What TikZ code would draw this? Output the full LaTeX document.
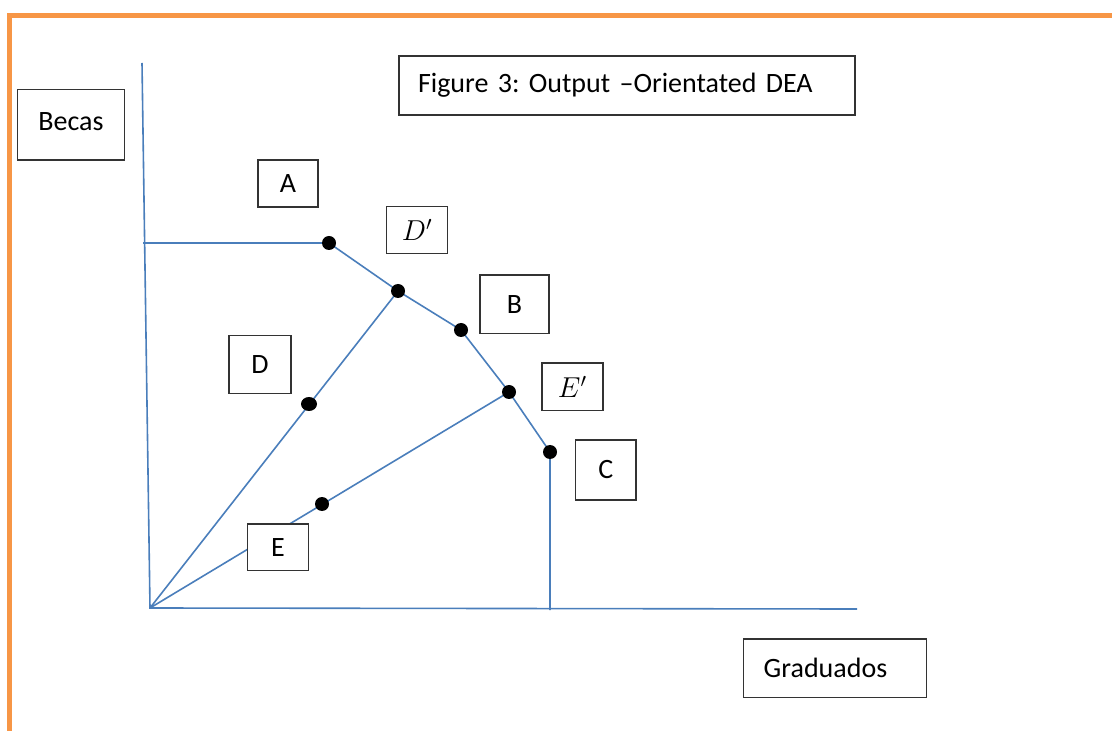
\documentclass[tikz,border=0pt]{standalone}
\usepackage{fontspec}
\setmainfont{Carlito}
\definecolor{lineblue}{HTML}{4A7EBB}
\definecolor{frameorange}{HTML}{F79646}
\frenchspacing
\begin{document}
\begin{tikzpicture}[x=0.5pt,y=-0.5pt,
    ln/.style={draw=lineblue,line width=0.8pt},
    lbl/.style={draw=black!80,fill=white,line width=0.6pt,inner sep=0pt,
      font=\fontsize{14}{16}\selectfont},
    wide/.style={lbl,align=left,inner xsep=#1}]
                \useasboundingbox (0,0) rectangle (1112,731);
                \draw[frameorange,line width=2.5pt] (9,731) -- (9,15.5) -- (1112,15.5);
                % axes and frontier
                \coordinate (o) at (150,608);
                \coordinate (ytop) at (142,63);
                \coordinate (xend) at (857,609);
                \coordinate (yA) at (143,243);
                \coordinate (dA) at (329,243);
                \coordinate (dDp) at (398,291);
                \coordinate (dB) at (461,330);
                \coordinate (dEp) at (509,392);
                \coordinate (dC) at (550,452);
                \coordinate (cbot) at (550,610);
                \coordinate (dD) at (309,404);
                \coordinate (dE) at (322,504);
                \draw[ln] (ytop) -- (o) -- (xend);
                \draw[ln] (yA) -- (dA) -- (dDp) -- (dB) -- (dEp) -- (dC) -- (cbot);
                \draw[ln] (o) -- (dDp);
                \draw[ln] (o) -- (dEp);
                \foreach \p in {dA,dDp,dB,dEp,dC,dE}
                    \fill (\p) circle (3.5pt);
                \fill (dD) ellipse (4pt and 3.5pt);
                % labels
                \node[lbl,minimum width=53.3pt,minimum height=35.3pt] (becas) at (71,124.7) {\raisebox{3.5pt}{Becas}};
                \node[wide=9.5pt,text width=209pt,minimum height=29.5pt] (title) at (627,85.5) {Figure 3: Output --Orientated DEA};
                \node[lbl,minimum width=30pt,minimum height=23.5pt] (lA) at (288,183.5) {A};
                \node[lbl,minimum width=30.5pt,minimum height=23.5pt] (lDp) at (417.2,229.7) {$D'$};
                \node[lbl,minimum width=34.5pt,minimum height=29.2pt] (lB) at (514.5,304.2) {B};
                \node[lbl,minimum width=31pt,minimum height=28.8pt] (lD) at (260,364.5) {D};
                \node[lbl,minimum width=30.5pt,minimum height=23.8pt] (lEp) at (572.5,386.8) {$E'$};
                \node[lbl,minimum width=30.2pt,minimum height=30pt] (lC) at (605.8,470) {C};
                \node[lbl,minimum width=30.3pt,minimum height=23.4pt] (lE) at (278,547.4) {E};
                \node[wide=10pt,text width=71.5pt,minimum height=29.3pt] (grad) at (835.2,668.3) {Graduados};
            \end{tikzpicture}
\end{document}
